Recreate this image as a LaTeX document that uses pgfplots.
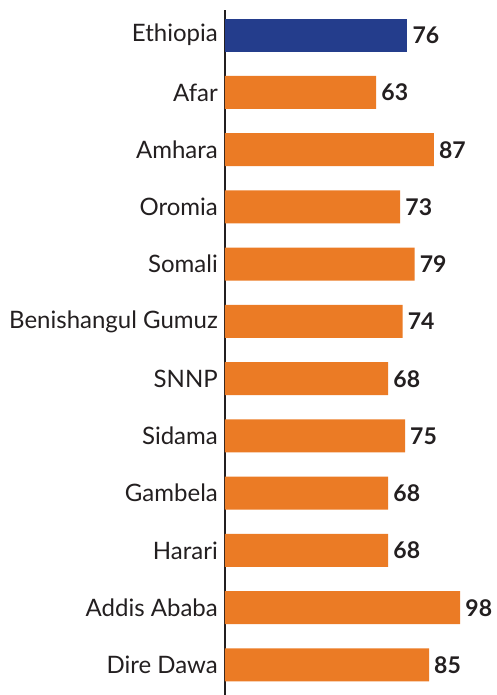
\documentclass[border=0pt]{standalone}
\usepackage{pgfplots}
\pgfplotsset{compat=1.18}
\usepackage{fontspec}
\setmainfont{Lato}
\definecolor{barblue}{RGB}{36,61,140}
\definecolor{barorange}{RGB}{235,123,37}
\definecolor{txt}{RGB}{35,31,32}
\begin{document}
\begin{tikzpicture}
\begin{axis}[
  xbar, scale only axis, width=271pt, height=685pt,
  xmin=0, xmax=112.9, ymin=-0.524, ymax=11.44,
  clip=false,
  /pgf/number format/assume math mode=true,
  axis x line=none, axis y line=left,
  y axis line style={-, draw=txt, line width=1.6pt},
  xtick=\empty,
  ytick={0,...,11},
  yticklabels={Dire Dawa, Addis Ababa, Harari, Gambela, Sidama, SNNP, Benishangul Gumuz, Somali, Oromia, Amhara, Afar, Ethiopia},
  major tick length=0pt,
  yticklabel style={font=\fontsize{24}{24}\selectfont, text=txt, inner xsep=0pt, xshift=-7pt},
  bar width=33pt, bar shift=0pt,
  nodes near coords,
  nodes near coords style={anchor=west, font=\bfseries\fontsize{23}{23}\selectfont, text=txt, inner xsep=0pt, xshift=5pt},
]
\addplot[fill=barblue, draw=none] coordinates {(76,11)};
\addplot[fill=barorange, draw=none] coordinates {(85,0) (98,1) (68,2) (68,3) (75,4) (68,5) (74,6) (79,7) (73,8) (87,9) (63,10)};
\end{axis}
\pgfresetboundingbox
\path (current axis.south west) ++(-225pt,0pt) rectangle ++(496pt,695pt);
\end{tikzpicture}
\end{document}
